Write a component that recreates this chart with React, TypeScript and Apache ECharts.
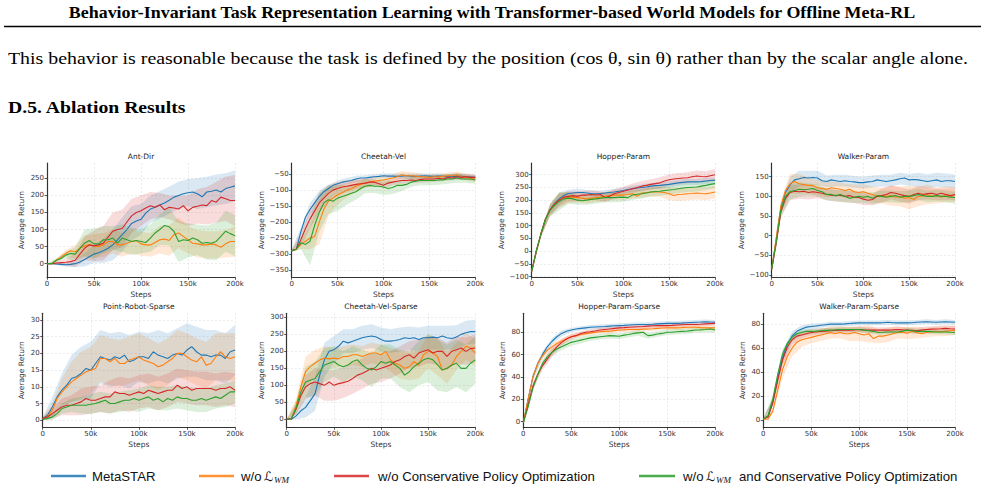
import React, { useEffect, useRef } from "react";
import * as echarts from "echarts";

// ---------------- data ----------------
const stepsK = [0,5,10,15,20,25,30,35,40,45,50,55,60,65,70,75,80,85,90,95,100,105,110,115,120,125,130,135,140,145,150,155,160,165,170,175,180,185,190,195,200];
const bandStepsK = [0,10,20,30,40,50,60,70,80,90,100,110,120,130,140,150,160,170,180,190,200];
const xTickLabels = ["0", "50k", "100k", "150k", "200k"];
const methodNames = ["MetaSTAR", "w/o L_WM", "w/o Conservative Policy Optimization", "w/o L_WM and Conservative Policy Optimization"];
const panelTitles = ["Ant-Dir", "Cheetah-Vel", "Hopper-Param", "Walker-Param", "Point-Robot-Sparse", "Cheetah-Vel-Sparse", "Hopper-Param-Sparse", "Walker-Param-Sparse"];

// Ant-Dir
const antDirMetaSTAR = [0,0,-1,-2,-3,-2,0,5,12,20,28,32,38,45,55,70,85,100,118,125,130,148,160,165,172,178,186,195,200,205,208,210,205,196,210,212,216,210,220,224,228];
const antDirNoWM = [0,0,10,20,30,38,35,45,52,55,52,50,55,65,65,55,55,60,65,68,58,55,55,62,70,72,68,85,90,80,70,60,58,55,55,58,55,48,58,65,65];
const antDirNoCPO = [0,0,2,3,4,6,10,28,45,55,52,55,60,78,95,100,103,122,140,150,155,163,170,165,172,158,165,163,160,170,155,165,168,172,170,185,180,195,190,185,185];
const antDirNoBoth = [0,0,10,15,25,30,28,45,60,68,58,58,70,70,75,60,75,70,65,68,65,62,75,90,100,112,108,95,65,70,68,75,70,60,62,60,65,80,95,88,82];
const antDirMetaSTARBand = [0,3,5,10,20,25,35,45,50,50,45,40,40,40,40,40,45,45,45,45,45];
const antDirNoWMBand = [0,5,10,20,30,35,35,35,35,35,35,35,40,45,45,40,40,40,40,40,45];
const antDirNoCPOBand = [0,5,10,20,35,45,50,55,55,50,45,40,35,35,40,45,50,55,60,65,75];
const antDirNoBothBand = [0,5,10,20,40,45,40,35,40,40,35,40,45,55,60,50,45,50,55,60,60];
const antDirYTicks = [0,50,100,150,200,250];

// Cheetah-Vel
const cheetahVelMetaSTAR = [-290,-285,-230,-185,-160,-140,-120,-105,-95,-85,-80,-75,-72,-70,-65,-62,-62,-60,-58,-57,-55,-56,-56,-57,-56,-55,-56,-57,-56,-55,-56,-57,-56,-57,-58,-57,-56,-57,-58,-59,-60];
const cheetahVelNoWM = [-290,-285,-270,-260,-250,-245,-200,-160,-135,-125,-115,-108,-100,-95,-88,-82,-78,-75,-72,-70,-68,-65,-62,-58,-52,-55,-55,-56,-58,-58,-60,-58,-58,-57,-55,-55,-52,-58,-60,-62,-65];
const cheetahVelNoCPO = [-290,-285,-255,-220,-190,-165,-140,-125,-110,-100,-95,-90,-88,-85,-82,-80,-78,-75,-75,-80,-85,-78,-75,-72,-70,-70,-68,-70,-67,-65,-65,-65,-63,-65,-60,-62,-58,-60,-58,-60,-60];
const cheetahVelNoBoth = [-290,-285,-265,-270,-260,-210,-170,-140,-130,-135,-125,-120,-115,-110,-105,-95,-88,-85,-88,-88,-90,-95,-92,-85,-85,-82,-75,-72,-70,-70,-70,-70,-68,-68,-65,-65,-62,-65,-65,-65,-68];
const cheetahVelMetaSTARBand = [3,12,20,18,12,10,10,10,9,8,8,8,8,8,8,8,8,8,8,8,8];
const cheetahVelNoWMBand = [3,15,35,70,45,30,22,18,15,15,12,12,12,12,10,10,10,10,10,10,10];
const cheetahVelNoCPOBand = [3,20,30,30,25,20,18,15,12,10,10,10,10,10,10,10,10,10,10,10,10];
const cheetahVelNoBothBand = [3,20,75,60,45,40,30,25,22,20,25,20,18,15,15,15,15,15,15,12,12];
const cheetahVelYTicks = [-350,-300,-250,-200,-150,-100,-50];

// Hopper-Param
const hopperParamMetaSTAR = [-80,0,66,125,162,188,205,218,226,228,230,230,228,226,225,226,228,230,232,235,238,242,245,248,250,252,255,257,258,260,262,265,268,270,272,272,272,273,275,277,278];
const hopperParamNoWM = [-80,0,66,125,162,185,200,208,210,212,210,208,205,208,210,212,215,218,220,220,220,222,225,215,228,230,232,232,232,230,225,218,222,223,225,226,228,226,225,228,232];
const hopperParamNoCPO = [-80,0,66,125,162,185,200,212,215,218,215,220,220,222,220,222,210,215,225,230,235,240,245,250,255,258,262,265,268,275,280,283,285,287,288,292,295,293,292,296,300];
const hopperParamNoBoth = [-80,0,66,125,160,180,195,205,208,205,200,198,200,203,205,208,210,210,210,211,212,210,220,223,225,228,232,234,235,238,240,242,245,248,250,251,252,255,258,262,265];
const hopperParamMetaSTARBand = [5,10,20,25,15,15,12,12,12,12,12,12,12,12,12,12,12,12,12,12,12];
const hopperParamNoWMBand = [5,12,25,30,22,18,18,18,18,18,18,18,18,18,20,25,25,25,25,25,25];
const hopperParamNoCPOBand = [5,10,20,25,20,20,18,18,18,18,18,20,20,20,22,22,22,22,22,22,22];
const hopperParamNoBothBand = [5,12,25,35,22,18,18,18,18,18,18,18,18,18,18,18,18,18,18,18,18];
const hopperParamYTicks = [-100,-50,0,50,100,150,200,250,300];

// Walker-Param
const walkerParamMetaSTAR = [-85,-10,70,110,130,142,145,148,147,148,147,140,138,142,140,138,140,138,137,135,135,137,138,142,140,138,140,142,145,147,142,143,142,140,138,140,142,138,140,140,138];
const walkerParamNoWM = [-85,-5,75,115,132,138,132,130,128,128,122,120,118,122,120,118,115,118,112,110,112,108,105,100,102,100,102,98,100,95,97,92,100,102,105,100,102,98,105,100,105];
const walkerParamNoCPO = [-85,-20,60,95,110,113,112,113,110,112,110,108,105,103,102,103,100,102,98,97,93,90,92,100,102,105,110,108,105,102,100,105,108,105,107,108,105,108,105,102,105];
const walkerParamNoBoth = [-85,-15,65,100,112,115,118,117,118,120,115,112,105,105,102,105,100,95,98,100,98,100,95,102,100,98,100,102,98,100,100,102,105,102,100,100,102,100,100,98,97];
const walkerParamMetaSTARBand = [5,15,20,20,18,18,15,15,15,15,15,15,15,15,15,15,18,18,18,18,18];
const walkerParamNoWMBand = [5,15,25,25,20,20,20,18,18,18,18,20,20,25,25,30,25,25,20,20,20];
const walkerParamNoCPOBand = [5,15,20,18,18,15,15,15,15,15,15,15,18,18,18,18,18,15,15,15,15];
const walkerParamNoBothBand = [5,15,20,18,15,15,15,15,15,15,15,15,15,15,15,15,15,15,15,15,15];
const walkerParamYTicks = [-100,-50,0,50,100,150];

// Point-Robot-Sparse
const pointRobotMetaSTAR = [0.5,1.5,4,7,9,10.5,12.5,13,14,15.5,15,17,19,18.5,18,19,18.5,19.5,17.5,18,19,19,18.5,20.5,19.5,19,18.5,19.5,20,19.5,21,22,20.5,19.5,19.5,19,19.5,19.5,18.5,20.5,21];
const pointRobotNoWM = [0.5,1,3,6.5,8.5,10,11.5,12.5,13.5,14.5,15,15.5,18.5,18.5,17.5,18.5,17,17,18,18.5,19,18,17.5,17,16,16.5,17.5,18.5,20,20,19,18,17.5,19,16.5,17,19,20.5,19,18.5,19];
const pointRobotNoCPO = [0.5,1,2,3,4,4.5,4.5,5,5.5,6.5,6,6,6.5,7,7,8.5,8,8,7.5,8,8.5,8,9,8.5,8,8.5,9,9,10.5,9.5,10,9,9.5,9.5,9.5,9.5,9,9.5,9.5,10,9];
const pointRobotNoBoth = [0.3,0.5,1,2,3.5,4,4.5,4.5,4.5,4.5,4.8,5,5.5,6,5,5,5.5,6,6,6.5,6,6.5,7,6,6.5,5.5,6.5,6,7,6.5,6.5,6,6,6.5,6,6.5,7,6.5,7.5,8.5,8.5];
const pointRobotMetaSTARBand = [0.5,3,5,7,8,8.5,8,8,8,8,7.5,7.5,7.5,7.5,7.5,8,7.5,7.5,7.5,7.5,7.5];
const pointRobotNoWMBand = [0.5,2,4,6,7,7,7,7,7,7,7,7,7,7,7,7,7,7,7,7,7];
const pointRobotNoCPOBand = [0.5,1.5,2.5,3,4,4,4,5,5,5,5,5,5,5,5,5,5,5,5,5,5];
const pointRobotNoBothBand = [0.3,1,1.5,2,2.5,3,3,3,3,3,3.5,3.5,3.5,3.5,3.5,3.5,3.5,3.5,3.5,3.5,3.5];
const pointRobotYTicks = [0,5,10,15,20,25,30];

// Cheetah-Vel-Sparse
const cheetahSparseMetaSTAR = [0,0,10,25,35,55,75,130,175,200,205,215,230,225,230,235,240,243,245,242,235,230,230,232,235,240,238,240,235,240,240,242,240,245,240,238,242,250,255,258,258];
const cheetahSparseNoWM = [0,2,40,95,140,155,165,175,180,178,180,178,185,185,190,190,185,190,195,195,190,200,175,165,160,150,155,170,160,190,200,195,185,145,150,160,185,200,215,210,195];
const cheetahSparseNoCPO = [0,2,30,70,95,105,110,105,100,110,100,105,108,112,120,130,135,142,150,145,150,155,160,170,175,185,190,180,195,200,205,195,200,200,185,200,205,210,200,208,210];
const cheetahSparseNoBoth = [0,2,35,80,110,115,120,140,160,165,170,160,155,160,170,175,160,150,145,155,170,165,170,160,150,130,140,155,165,175,180,175,160,145,150,160,165,150,150,165,175];
const cheetahSparseMetaSTARBand = [0,10,30,50,50,40,35,35,35,35,35,35,35,35,35,35,35,35,35,35,35];
const cheetahSparseNoWMBand = [0,20,45,40,35,30,30,30,30,30,30,35,40,40,40,50,55,45,40,40,40];
const cheetahSparseNoCPOBand = [0,15,35,40,45,45,45,45,45,45,40,40,40,40,40,40,40,40,40,40,40];
const cheetahSparseNoBothBand = [0,20,45,50,50,45,45,45,45,50,50,50,55,60,65,70,75,70,70,70,70];
const cheetahSparseYTicks = [0,50,100,150,200,250,300];

// Hopper-Param-Sparse
const hopperSparseMetaSTAR = [-1,20,40,52,60,67,72,76,79,81,82,83,83.5,84,84.5,84.8,85,85.2,85.5,85.8,86,86.2,86.5,86.8,87,87,87,87.2,87.5,87.8,88,88,88,88.2,88.5,88.8,89,89.2,89.5,89.2,89];
const hopperSparseNoWM = [-1,20,40,52,59,64,67,70,72,74,76,77,78,78.8,79.5,80,80.5,80.8,81,81.5,82,82.2,82.5,82.5,82.5,82.8,83,83.2,83.5,83.8,84,84,84,84.2,84.5,84.5,84.5,84.2,84,84,84];
const hopperSparseNoCPO = [-1,15,32,42,50,56,62,67,71,74,76,77,79,80,80.5,81.2,82,82.5,83,83.5,84,84.2,84.5,84.8,85,85.2,85.5,85.8,86,86,86,86.2,86.5,86.8,87,87,87,87.2,87.5,87.8,88];
const hopperSparseNoBoth = [-1,13,30,42,52,58,62,65,67,69,71,72,73,74,75,75.5,76,76.5,77,76.8,76.5,77.5,78,79,79.5,80,77,77.5,78.5,79,80,80,80.5,80.8,81,81.5,82,82.2,82.5,83,82];
const hopperSparseMetaSTARBand = [1,3,3,3,2.5,2,2,2,2,2,2,2,2,2,2,2,2,2,2,2,2];
const hopperSparseNoWMBand = [1,3,3,3,2.5,2,2,2,2,2,2,2,2,2,2,2,2,2,2,2,2];
const hopperSparseNoCPOBand = [1,3,4,4,3,2.5,2,2,2,2,2,2,2,2,2,2,2,2,2,2,2];
const hopperSparseNoBothBand = [1,3,3,3,3,3,3,2.5,2.5,2.5,2.5,2.5,2.5,2.5,2.5,2.5,2.5,2.5,2.5,2.5,2.5];
const hopperSparseYTicks = [0,20,40,60,80];

// Walker-Param-Sparse
const walkerSparseMetaSTAR = [1,3,15,35,52,63,70,74,76,77.5,78,78.5,79,79.5,80,80,80,80.2,80.5,80.8,81,81,81,81,81,81.2,81.5,81.2,81,81,81,81.2,81.5,81.8,82,81.8,81.5,81.8,82,81.8,81.5];
const walkerSparseNoWM = [1,1,8,25,42,53,60,65,67,68,69,70,71,72,73,72,73,72,72,73,72,71,72,68,70,70,71,72,73,73,72.5,74,73,72,73,73.5,74,73.5,74,74.5,75];
const walkerSparseNoCPO = [1,3,15,33,50,61,67,70,71,72,73,73.5,74,74.2,74.5,74.8,75,75,75,75.2,75.5,75.2,75,75,75,75,75,75.2,75.5,75.2,75,74.8,74.5,75,75.5,75.8,76,76.2,76.5,76.2,76];
const walkerSparseNoBoth = [1,4,18,38,55,64,69,72,73,74,74,74.2,74.5,74.8,75,75.2,75.5,75.5,75.5,75.5,75.5,75,74.5,74,73,73.2,73.5,73.5,73.5,74,75,74.5,74,74,74,73.8,73.5,73.5,73.5,73.2,73];
const walkerSparseMetaSTARBand = [1,3,5,4,3,2.5,2,2,2,2,2,2,2,2,2,2,2,2,2,2,2];
const walkerSparseNoWMBand = [1,3,7,7,6,5,5,5,5,6,6,7,6,6,5,5,5,4,4,4,4];
const walkerSparseNoCPOBand = [1,3,5,4,3,2.5,2.5,2.5,2.5,2.5,2.5,2.5,2.5,2.5,2.5,2.5,2.5,2.5,2.5,2.5,2.5];
const walkerSparseNoBothBand = [1,3,4,3,2.5,2,2,2,2,2,2,2,2,2,2,2,2,2,2,2,2];
const walkerSparseYTicks = [0,20,40,60,80];

const panelMeans = [
  [antDirMetaSTAR, antDirNoWM, antDirNoCPO, antDirNoBoth],
  [cheetahVelMetaSTAR, cheetahVelNoWM, cheetahVelNoCPO, cheetahVelNoBoth],
  [hopperParamMetaSTAR, hopperParamNoWM, hopperParamNoCPO, hopperParamNoBoth],
  [walkerParamMetaSTAR, walkerParamNoWM, walkerParamNoCPO, walkerParamNoBoth],
  [pointRobotMetaSTAR, pointRobotNoWM, pointRobotNoCPO, pointRobotNoBoth],
  [cheetahSparseMetaSTAR, cheetahSparseNoWM, cheetahSparseNoCPO, cheetahSparseNoBoth],
  [hopperSparseMetaSTAR, hopperSparseNoWM, hopperSparseNoCPO, hopperSparseNoBoth],
  [walkerSparseMetaSTAR, walkerSparseNoWM, walkerSparseNoCPO, walkerSparseNoBoth],
];
const panelBands = [
  [antDirMetaSTARBand, antDirNoWMBand, antDirNoCPOBand, antDirNoBothBand],
  [cheetahVelMetaSTARBand, cheetahVelNoWMBand, cheetahVelNoCPOBand, cheetahVelNoBothBand],
  [hopperParamMetaSTARBand, hopperParamNoWMBand, hopperParamNoCPOBand, hopperParamNoBothBand],
  [walkerParamMetaSTARBand, walkerParamNoWMBand, walkerParamNoCPOBand, walkerParamNoBothBand],
  [pointRobotMetaSTARBand, pointRobotNoWMBand, pointRobotNoCPOBand, pointRobotNoBothBand],
  [cheetahSparseMetaSTARBand, cheetahSparseNoWMBand, cheetahSparseNoCPOBand, cheetahSparseNoBothBand],
  [hopperSparseMetaSTARBand, hopperSparseNoWMBand, hopperSparseNoCPOBand, hopperSparseNoBothBand],
  [walkerSparseMetaSTARBand, walkerSparseNoWMBand, walkerSparseNoCPOBand, walkerSparseNoBothBand],
];
const panelYTicks = [antDirYTicks, cheetahVelYTicks, hopperParamYTicks, walkerParamYTicks, pointRobotYTicks, cheetahSparseYTicks, hopperSparseYTicks, walkerSparseYTicks];
const panelYRange = [[-40, 295], [-373, -15], [-103, 346], [-106, 185], [-2.1, 32], [-23.5, 312], [-5, 97], [-5.8, 89]];

// ---------------- layout / style ----------------
const layout = [
  { left: 47, top: 163, width: 188, height: 114.3, nameGap: 22 },
  { left: 291.7, top: 163, width: 183.6, height: 114.3, nameGap: 26.5 },
  { left: 531.7, top: 163, width: 183.3, height: 114.3, nameGap: 25.5 },
  { left: 771.7, top: 163, width: 183.3, height: 114.3, nameGap: 25.5 },
  { left: 42.7, top: 313.3, width: 192.3, height: 114, nameGap: 17.5 },
  { left: 286.7, top: 313.3, width: 188.6, height: 114, nameGap: 21.5 },
  { left: 523.3, top: 313.3, width: 191.7, height: 114, nameGap: 17.3 },
  { left: 763.3, top: 313.3, width: 191.7, height: 114, nameGap: 17.3 },
];
const titleY = [156.7, 156.7, 156.7, 156.7, 306, 306, 306, 306];
const colors = ["#1f77b4", "#ff7f0e", "#d62728", "#2ca02c"];
const plotFont = "DejaVu Sans";
const textColor = "#333333";
const serif = "Liberation Serif";

const fmtY = (v: number) => (v < 0 ? "\u2212" + Math.abs(v) : String(v));

function buildOption() {
  const grid = layout.map((g) => ({ left: g.left, top: g.top, width: g.width, height: g.height }));
  const xAxis = layout.map((_, i) => ({
    type: "value",
    gridIndex: i,
    min: 0,
    max: 200000,
    interval: 50000,
    axisLine: { show: true, onZero: false, lineStyle: { color: "#333", width: 1.2 } },
    axisTick: { show: true, length: 2.5, lineStyle: { color: "#333", width: 0.8 } },
    axisLabel: {
      fontSize: 7, color: textColor, fontFamily: plotFont, margin: 3,
      formatter: (v: number) => xTickLabels[Math.round(v / 50000)] ?? "",
    },
    splitLine: { show: true, lineStyle: { color: "#dddddd", width: 0.6, type: [2, 2] } },
    name: "Steps",
    nameLocation: "middle",
    nameGap: 13,
    nameTextStyle: { fontSize: 7.5, color: textColor, fontFamily: plotFont },
  }));
  const yAxis = layout.map((g, i) => ({
    type: "value",
    gridIndex: i,
    min: panelYRange[i][0],
    max: panelYRange[i][1],
    axisLine: { show: true, onZero: false, lineStyle: { color: "#333", width: 1.2 } },
    axisTick: { show: true, length: 2.5, customValues: panelYTicks[i], lineStyle: { color: "#333", width: 0.8 } },
    axisLabel: {
      customValues: panelYTicks[i],
      fontSize: 7, color: textColor, fontFamily: plotFont, margin: 3,
      formatter: fmtY,
    },
    splitLine: { show: true, lineStyle: { color: "#dddddd", width: 0.6, type: [2, 2] } },
    name: "Average Return",
    nameLocation: "middle",
    nameRotate: 90,
    nameGap: g.nameGap,
    nameTextStyle: { fontSize: 7.5, color: textColor, fontFamily: plotFont },
  }));

  const series: any[] = [];
  panelMeans.forEach((means, p) => {
    means.forEach((mean, s) => {
      const spread = panelBands[p][s];
      const bandData = bandStepsK.map((k, j) => [k * 1000, mean[j * 2] - spread[j], mean[j * 2] + spread[j]]);
      series.push({
        type: "custom",
        name: methodNames[s] + " band",
        xAxisIndex: p,
        yAxisIndex: p,
        silent: true,
        clip: true,
        z: 1,
        encode: { x: 0, y: [1, 2] },
        data: bandData,
        renderItem: (params: any, api: any) => {
          if (params.dataIndex !== 0) return null;
          const upper = bandData.map((d) => api.coord([d[0], d[2]]));
          const lower = bandData.map((d) => api.coord([d[0], d[1]])).reverse();
          return {
            type: "polygon",
            shape: { points: upper.concat(lower) },
            style: { fill: colors[s], opacity: 0.17 },
          };
        },
      });
    });
  });
  panelMeans.forEach((means, p) => {
    means.forEach((mean, s) => {
      series.push({
        type: "line",
        name: methodNames[s],
        xAxisIndex: p,
        yAxisIndex: p,
        showSymbol: false,
        silent: true,
        z: 3,
        lineStyle: { color: colors[s], width: 1.1 },
        itemStyle: { color: colors[s] },
        data: stepsK.map((k, j) => [k * 1000, mean[j]]),
      });
    });
  });

  const graphics: any[] = [];
  // page text
  graphics.push({
    type: "text", x: 492, y: 13, scaleX: 1.12,
    style: {
      text: "Behavior-Invariant Task Representation Learning with Transformer-based World Models for Offline Meta-RL",
      fontFamily: serif, fontWeight: "bold", fontSize: 16, fill: "#000", align: "center", verticalAlign: "middle",
    },
  });
  graphics.push({ type: "line", shape: { x1: 4, y1: 26.5, x2: 981, y2: 26.5 }, style: { stroke: "#000", lineWidth: 1.4 } });
  graphics.push({
    type: "text", x: 8, y: 58, scaleX: 1.168,
    style: {
      text: "This behavior is reasonable because the task is defined by the position (cos \u03B8, sin \u03B8) rather than by the scalar angle alone.",
      fontFamily: serif, fontSize: 17, fill: "#000", align: "left", verticalAlign: "middle",
    },
  });
  graphics.push({
    type: "text", x: 8, y: 107, scaleX: 1.16,
    style: { text: "D.5. Ablation Results", fontFamily: serif, fontWeight: "bold", fontSize: 17, fill: "#000", align: "left", verticalAlign: "middle" },
  });
  // panel titles
  layout.forEach((g, i) => {
    graphics.push({
      type: "text", x: g.left + g.width / 2, y: titleY[i],
      style: { text: panelTitles[i], fontFamily: plotFont, fontSize: 7.5, fill: "#222", align: "center", verticalAlign: "middle" },
    });
  });
  // legend
  const legY = 476;
  const legLines = [[51, 86], [199, 234], [334, 369], [639, 675]];
  legLines.forEach(([a, b], i) => {
    graphics.push({ type: "line", shape: { x1: a, y1: legY, x2: b, y2: legY }, style: { stroke: colors[i], lineWidth: 2.6, opacity: 0.85 } });
  });
  const legFont = "Liberation Sans";
  const legText = (x: number, text: string) => ({
    type: "text", x, y: legY,
    style: { text, fontFamily: legFont, fontSize: 13.2, fill: "#111", align: "left", verticalAlign: "middle" },
  });
  const scriptL = (x: number) => ({
    type: "text", x, y: legY,
    style: { text: "\u2112", fontFamily: "DejaVu Sans", fontSize: 13, fill: "#111", align: "left", verticalAlign: "middle" },
  });
  const subWM = (x: number) => ({
    type: "text", x, y: legY + 3.5,
    style: { text: "WM", fontFamily: serif, fontStyle: "italic", fontSize: 9, fill: "#111", align: "left", verticalAlign: "middle" },
  });
  graphics.push(legText(92, "MetaSTAR"));
  graphics.push(legText(241, "w/o"));
  graphics.push(scriptL(264));
  graphics.push(subWM(274));
  graphics.push(legText(378, "w/o Conservative Policy Optimization"));
  graphics.push(legText(683, "w/o"));
  graphics.push(scriptL(706));
  graphics.push(subWM(716));
  graphics.push(legText(739, "and Conservative Policy Optimization"));

  return {
    animation: false,
    backgroundColor: "#ffffff",
    grid,
    xAxis,
    yAxis,
    series,
    graphic: graphics,
  };
}

export default function App() {
  const ref = useRef<HTMLDivElement>(null);
  useEffect(() => {
    if (!ref.current) return;
    const chart = echarts.init(ref.current, undefined, { renderer: "svg" });
    chart.setOption(buildOption() as any);
    return () => chart.dispose();
  }, []);
  return <div ref={ref} style={{ position: "fixed", left: 0, top: 0, width: 985, height: 491, background: "#fff" }} />;
}
